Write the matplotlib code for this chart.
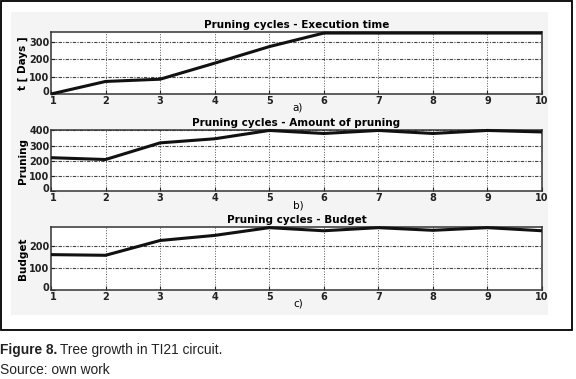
import matplotlib
matplotlib.use("Agg")
import matplotlib.pyplot as plt
from matplotlib.patches import Rectangle
from matplotlib.transforms import ScaledTranslation

plt.rcParams['font.family'] = ['Liberation Sans Narrow', 'DejaVu Sans']

# data
cycles = [1, 2, 3, 4, 5, 6, 7, 8, 9, 10]
exec_time = [0, 72, 85, 177, 272, 350, 350, 350, 350, 350]
pruning = [220, 208, 318, 345, 400, 380, 400, 380, 400, 390]
budget = [160, 157, 224, 247, 282, 268, 282, 270, 282, 268]

titles = ["Pruning cycles - Execution time",
          "Pruning cycles - Amount of pruning",
          "Pruning cycles - Budget"]
ylabels = ["t [ Days ]", "Pruning", "Budget"]
letters = ["a)", "b)", "c)"]
yticks = [[0, 100, 200, 300], [0, 100, 200, 300, 400], [0, 100, 200]]
ylims = [356, 403, 285]

W, H = 576, 379
fig = plt.figure(figsize=(W / 100, H / 100), dpi=100)
fig.patch.set_facecolor("white")

# background axes: outer frame and light panel area
bg = fig.add_axes([0, 0, 1, 1], zorder=-5)
bg.set_xlim(0, W)
bg.set_ylim(H, 0)
bg.axis("off")
bg.add_patch(Rectangle((11, 12), 537, 303, facecolor="#f4f4f4", edgecolor="none"))
bg.add_patch(Rectangle((1, 1), 571, 329, facecolor="none", edgecolor="black", lw=1.3))

# (top, bottom) in pixels for each panel
boxes = [(32, 94), (130, 191), (227, 290)]
series = [exec_time, pruning, budget]
left, right = 51, 542

for i, (top, bot) in enumerate(boxes):
    ax = fig.add_axes([left / W, 1 - bot / H, (right - left) / W, (bot - top) / H])
    ax.set_facecolor("white")
    ax.plot(cycles, series[i], color="#111111", lw=2.2, solid_capstyle="butt",
            clip_on=False, zorder=3)
    ax.set_xlim(1, 10)
    ax.set_ylim(0, ylims[i])
    ax.set_xticks(cycles)
    ax.set_yticks(yticks[i])
    ax.tick_params(direction="in", length=3, width=0.8, pad=1, labelsize=7,
                   colors="#222222")
    ax.tick_params(axis="x", pad=1.5)
    for lab in ax.get_xticklabels() + ax.get_yticklabels():
        lab.set_fontweight("bold")
    # keep the corner labels "0" and "1" apart
    y0 = ax.get_yticklabels()[0]
    y0.set_transform(y0.get_transform() + ScaledTranslation(0, 2.5 / 72, fig.dpi_scale_trans))
    x1 = ax.get_xticklabels()[0]
    x1.set_transform(x1.get_transform() + ScaledTranslation(1.5 / 72, 0, fig.dpi_scale_trans))
    for sp in ax.spines.values():
        sp.set_linewidth(1.1)
        sp.set_color("#333333")
    for x in cycles[1:-1]:
        ax.axvline(x, color="#555555", lw=0.7, ls=":", zorder=1)
    for y in yticks[i][1:]:
        ax.axhline(y, color="#444444", lw=0.8, ls=(0, (3, 1.2, 1, 1.2)), zorder=1)
    ax.set_title(titles[i], fontsize=7.5, fontweight="bold", pad=3)
    ax.set_ylabel(ylabels[i], fontsize=7.5, fontweight="bold", labelpad=1)
    fig.text(298 / W, 1 - (bot + 14) / H, letters[i], fontsize=7.5,
             ha="center", va="center")

# caption: bold "Figure 8." followed by normal text
cap = fig.text(0, 1 - 350 / H, "Figure 8.", fontsize=9.9, va="center",
               fontweight="bold", family="Liberation Sans", color="#222222")
fig.canvas.draw()
bb = cap.get_window_extent()
fig.text((bb.x1 + 3) / W, 1 - 350 / H, "Tree growth in TI21 circuit.", fontsize=9.9,
         va="center", family="Liberation Sans", color="#222222")
fig.text(0, 1 - 370 / H, "Source: own work", fontsize=9.9, va="center",
         family="Liberation Sans", color="#222222")

fig.savefig("out.png", dpi=100)
